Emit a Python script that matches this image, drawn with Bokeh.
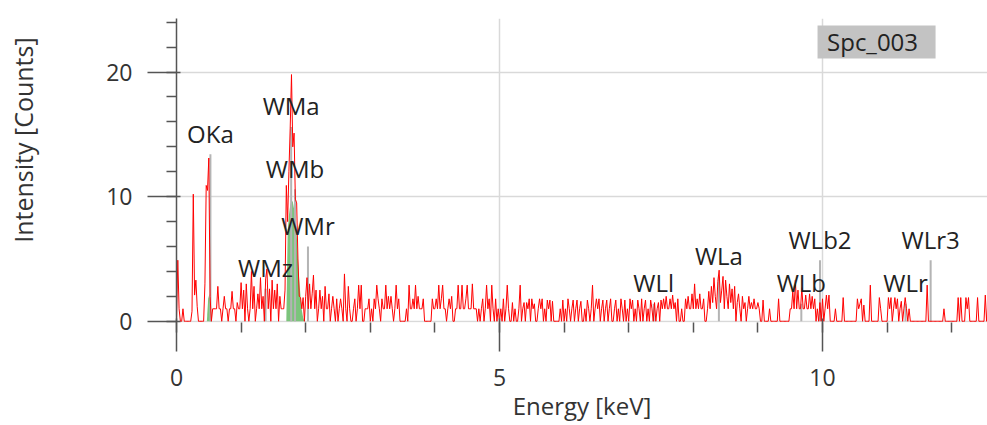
import math
from bokeh.plotting import figure
from bokeh.layouts import row
from bokeh.models import Range1d, SingleIntervalTicker, Label, BoxAnnotation
from bokeh.core.properties import value
from bokeh.embed import file_html
from bokeh.resources import INLINE

# ---------------- data ----------------
channel_start = 0.0      # keV of first channel
channel_width = 0.02     # keV per channel

counts = [
    0, 4.9, 1, 0, 0, 1, 0, 0, 0, 0, 0, 0, 0.8, 10.2, 2.1, 3.3, 1.2, 0, 0, 0, 0, 0, 3, 10.9, 10.5,
    13.1, 2.0, 0, 1, 1, 1, 1, 2.8, 1, 1, 0, 1, 2.0, 1, 1, 0, 1, 1, 2.4, 1, 1, 0, 1.5, 1, 1,
    3.1, 1, 2.5, 0, 3.0, 1, 0, 1, 4.0, 1, 2.8, 0, 1, 2.2, 1, 3.5, 1, 2.0, 0, 3.4, 4.2, 1, 2.6, 0, 3.3,
    1, 2.5, 1, 3.0, 0, 2.0, 1, 1, 1, 2.5, 10.9, 8.0, 12.0, 15.5, 19.8, 14.0, 15.1, 9.8, 9.5, 5.0, 2.0, 1.9, 1, 1.9, 0,
    2.0, 3.5, 1, 3.0, 1, 2.2, 3.7, 1, 2.5, 0, 1, 2.5, 1, 2.0, 0, 2.8, 1, 1, 2.2, 0, 1, 2.0, 1, 0, 1.8,
    0, 1, 1.8, 1, 0, 3.8, 1, 0, 2.8, 1, 0, 0, 1, 1.8, 0, 1, 2.9, 1, 2.9, 0, 0, 1, 1, 1, 1.8,
    0, 1, 0, 1.8, 1, 2.9, 1.8, 1, 0, 1.8, 1, 1, 2.9, 1, 2.0, 1, 2.0, 1, 0, 1, 2.9, 1, 1.8, 0, 0,
    0, 0, 0, 1, 0, 2.9, 1, 1, 1.8, 1, 2.9, 1, 2.0, 1, 1, 1, 1.8, 0, 0, 0, 0, 0, 0, 1.8, 1,
    1, 1.8, 1, 2.9, 1, 1.8, 2.9, 1, 1, 0, 1, 1.8, 1, 2.0, 0, 0, 1, 1, 2.9, 1, 1, 2.9, 1, 1, 1.8,
    2.9, 1, 1, 1, 3.0, 1, 1, 1, 0, 1, 0, 1, 1.8, 0, 1, 2.9, 1, 1.8, 0, 2.9, 1, 0, 1.8, 0, 1,
    0, 1, 0, 1.8, 0, 1, 2.9, 1, 0, 0, 1.5, 0, 1, 0, 0, 1, 2.9, 0, 1, 1.5, 0, 1.5, 1, 1.8, 0,
    1.8, 1, 1.4, 0, 0, 1, 1.8, 1, 1.8, 0, 1, 0, 1.7, 1, 1.7, 0, 1.6, 0, 0, 0, 0, 0, 1, 0, 1.7,
    0, 1, 0, 1.8, 1, 0, 1, 1.7, 0, 1, 1.7, 0, 1, 1.6, 0, 0, 1, 0, 1.7, 1, 0, 1, 2.9, 0, 1,
    1.8, 1, 1.8, 0, 1, 1.7, 0, 1, 1.7, 0, 1, 1.8, 0, 0, 1, 1.7, 0, 1, 0, 1.8, 1, 0, 1.7, 0, 1,
    0, 1.8, 1, 1.7, 0, 1, 0, 1.7, 1, 0, 1.8, 0, 1, 1.7, 0, 1, 0, 1.7, 1, 0, 1.5, 0, 1, 1.5, 0,
    1.7, 1, 1.8, 1, 2.0, 1, 1, 1.8, 1, 2.1, 1, 1.5, 0, 1.8, 0, 0, 1, 0, 0, 1.8, 1, 2.0, 1, 1, 2.2,
    1, 3.0, 1, 1.8, 1, 2.2, 1, 1, 1.8, 0, 0, 1, 2.4, 1, 2.8, 1.5, 3.5, 2.0, 1, 3.2, 4.1, 1.5, 2.5, 3.6, 1,
    3.3, 2.0, 1, 3.0, 1.5, 2.6, 1, 2.8, 0, 1.5, 2.2, 1, 0, 2.0, 1, 1.5, 0, 1, 2.0, 1, 1.5, 1, 1.8, 1, 1,
    1.5, 1, 0, 0, 1.7, 0, 0, 0, 0, 1, 0, 0, 0, 0, 0, 0, 1.8, 0, 0, 0, 0, 0, 0, 0, 0,
    1, 1, 2.4, 1, 3.3, 1, 2.5, 1, 1, 2.7, 1, 1, 2.1, 1, 1, 2.2, 1, 2.0, 1, 1.8, 0, 1, 0, 1.5, 0,
    1.8, 0, 1, 2.1, 1, 2.1, 0, 0, 0, 0, 1, 0, 0, 0, 0, 0, 1.9, 0, 0, 0, 0, 0, 0, 0, 0,
    0, 0, 1.8, 1, 1.4, 1.8, 0, 1.3, 0, 0, 0, 0, 2.9, 0, 0, 0, 0, 0, 0, 1.9, 1, 0, 0, 0, 0,
    0, 1.9, 1, 1.9, 0, 1, 1.9, 1, 1.8, 0, 1, 1.6, 0, 1, 1.9, 1, 0, 1.0, 0, 0, 0, 0, 0, 0, 0,
    0, 0, 0, 0, 0, 0, 2.9, 0, 0, 0, 0, 0, 0, 0, 0, 0, 0, 0, 0, 1.0, 0, 0, 0, 0, 0,
    0, 0, 0, 0, 0, 1.9, 0, 1.9, 0, 0, 0, 1.9, 1, 1.9, 0, 0, 0, 0, 0, 0, 1.9, 0, 0, 0, 0,
    0, 2.1, 0, 1.5, 0,
]
energy = [round(channel_start + i * channel_width, 4) for i in range(len(counts))]

# element line markers
line_names = ["OKa", "WMz", "WMa", "WMb", "WMr", "WLl", "WLa", "WLb", "WLb2", "WLr", "WLr3"]
line_energy = [0.525, 1.379, 1.775, 1.835, 2.035, 7.387, 8.396, 9.672, 9.961, 11.285, 11.674]
line_height = [13.4, 2.6, 15.6, 10.6, 6.0, 1.4, 3.6, 1.4, 4.9, 1.4, 4.9]
line_base = [0] * len(line_names)

# fitted peak areas (green)
fit_o_x = [0.47, 0.49, 0.51, 0.53, 0.55]
fit_o_y = [0, 1.8, 2.2, 1.2, 0]
fit_w_x = [1.70, 1.72, 1.74, 1.76, 1.78, 1.80, 1.82, 1.84, 1.86, 1.88, 1.90, 1.92, 1.94, 1.96, 1.98]
fit_w_y = [0, 7.0, 8.5, 9.3, 9.7, 9.6, 9.0, 8.4, 7.0, 5.0, 3.3, 2.0, 0.9, 0.3, 0]

spectrum_name = "Spc_003"
x_title = "Energy [keV]"
y_title = "Intensity [Counts]"

FONT = "Open Sans"

# ---------------- y-title strip ----------------
strip = figure(width=44, height=425, output_backend="svg", toolbar_location=None,
               x_range=Range1d(0, 44), y_range=Range1d(425, 0),
               x_axis_type=None, y_axis_type=None,
               min_border_left=0, min_border_right=0, min_border_top=0, min_border_bottom=0)
strip.outline_line_color = None
strip.grid.visible = False
strip.text(x=[22], y=[170], text=[y_title], angle=math.pi / 2, text_align="center",
           text_baseline="middle", text_font=value(FONT), text_font_size="25px",
           text_color="#333333")

# ---------------- main figure ----------------
p = figure(width=943, height=425, output_backend="svg", toolbar_location=None,
           x_range=Range1d(0, 12.554), y_range=Range1d(-0.1, 24.3),
           min_border_left=132, min_border_right=0, min_border_top=18, min_border_bottom=103)
p.outline_line_color = None
p.background_fill_color = "white"

for ax in (p.xaxis[0], p.yaxis[0]):
    ax.axis_line_color = "#555555"
    ax.axis_line_width = 1.5
    ax.major_tick_line_color = "#555555"
    ax.major_tick_line_width = 1.5
    ax.minor_tick_line_color = "#555555"
    ax.minor_tick_line_width = 1.5
    ax.major_tick_out = 29
    ax.major_tick_in = 4
    ax.minor_tick_out = 10
    ax.minor_tick_in = 0
    ax.major_label_text_font = FONT
    ax.major_label_text_font_size = "23px"
    ax.major_label_text_color = "#333333"

p.xaxis.axis_line_color = None
p.xaxis.ticker = SingleIntervalTicker(interval=5, num_minor_ticks=5)
p.yaxis.ticker = SingleIntervalTicker(interval=10, num_minor_ticks=5)
p.xaxis.major_label_standoff = 17
p.yaxis.major_label_standoff = 15
p.xaxis.axis_label = x_title
p.xaxis.axis_label_standoff = 0
p.xaxis.axis_label_text_font = FONT
p.xaxis.axis_label_text_font_size = "24px"
p.xaxis.axis_label_text_font_style = "normal"
p.xaxis.axis_label_text_color = "#333333"

p.xgrid.ticker = SingleIntervalTicker(interval=5)
p.ygrid.ticker = SingleIntervalTicker(interval=10)
p.grid.grid_line_color = "#d9d9d9"
p.grid.grid_line_width = 1.5

p.patch(fit_o_x, fit_o_y, fill_color="#7cc47c", line_color=None)
p.patch(fit_w_x, fit_w_y, fill_color="#7cc47c", line_color=None)
p.segment(x0=line_energy, y0=line_base, x1=line_energy, y1=line_height,
          line_color="#b4b4b4", line_width=2)
p.line(energy, counts, line_color="#ff0000", line_width=1)
p.text(x=line_energy, y=line_height, text=line_names, text_align="center",
       text_baseline="middle", y_offset=-21, text_font=value(FONT),
       text_font_size="24px", text_color="#222222")

p.add_layout(BoxAnnotation(left=9.923, right=11.75, bottom=21.09, top=23.74,
                           fill_color="#c3c3c3", fill_alpha=1.0, line_color=None))
p.add_layout(Label(x=10.07, y=22.42, text=spectrum_name, text_baseline="middle",
                   text_align="left", text_font=FONT, text_font_size="24px",
                   text_color="#222222"))

layout = row(strip, p, spacing=0)
open("out.html", "w").write(file_html(layout, INLINE))
